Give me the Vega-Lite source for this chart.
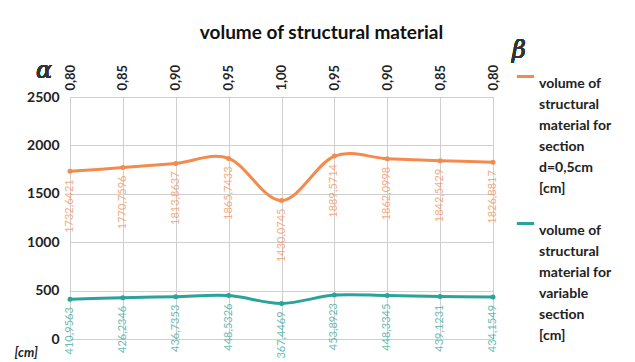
{
  "$schema": "https://vega.github.io/schema/vega-lite/v6.json",
  "autosize": {"type": "none"},
  "padding": {"left": 70, "top": 97, "right": 142, "bottom": 23},
  "width": 423,
  "height": 242,
  "background": "white",
  "title": {"text": "volume of structural material", "font": "Lato", "fontSize": 19, "fontWeight": "bold", "color": "#111", "anchor": "middle", "dx": 40, "offset": -4},
  "config": {
    "view": {"stroke": null},
    "locale": {"number": {"decimal": ",", "thousands": ".", "grouping": [3], "currency": ["", ""]}},
    "font": "Lato",
    "style": {"guide-label": {"lineHeight": 21}}
  },
  "data": {"values": [
    {"pos": 1, "series": "A", "value": 1732.6421},
    {"pos": 2, "series": "A", "value": 1770.7596},
    {"pos": 3, "series": "A", "value": 1813.8637},
    {"pos": 4, "series": "A", "value": 1865.7433},
    {"pos": 5, "series": "A", "value": 1430.0745},
    {"pos": 6, "series": "A", "value": 1889.5714},
    {"pos": 7, "series": "A", "value": 1862.0998},
    {"pos": 8, "series": "A", "value": 1842.5429},
    {"pos": 9, "series": "A", "value": 1826.8817},
    {"pos": 1, "series": "B", "value": 410.9563},
    {"pos": 2, "series": "B", "value": 426.2346},
    {"pos": 3, "series": "B", "value": 436.7353},
    {"pos": 4, "series": "B", "value": 448.5326},
    {"pos": 5, "series": "B", "value": 367.4469},
    {"pos": 6, "series": "B", "value": 453.8923},
    {"pos": 7, "series": "B", "value": 448.3345},
    {"pos": 8, "series": "B", "value": 439.1231},
    {"pos": 9, "series": "B", "value": 434.1549}
  ]},
  "encoding": {
    "x": {"field": "pos", "type": "ordinal", "scale": {"type": "point", "padding": 0},
      "axis": {"orient": "top", "title": null, "labelAngle": 270, "labelAlign": "left", "labelBaseline": "middle", "labelFont": "Lato", "labelFontSize": 13, "labelFontWeight": "bold", "labelColor": "#222", "labelPadding": 7, "domain": false, "ticks": false, "grid": true, "gridColor": "#cfcfcf",
        "labelExpr": "['0,80','0,85','0,90','0,95','1,00','0,95','0,90','0,85','0,80'][datum.value-1]"}},
    "y": {"field": "value", "type": "quantitative", "scale": {"domain": [0, 2500]},
      "axis": {"values": [0, 500, 1000, 1500, 2000, 2500], "format": "d", "title": "[cm]", "titleAngle": 0, "titleX": -56, "titleY": 262, "titleAlign": "left", "titleFont": "Lato", "titleFontSize": 13, "titleFontWeight": "bold", "titleFontStyle": "italic", "titleColor": "#222", "labelFont": "Lato", "labelFontSize": 14, "labelFontWeight": "bold", "labelColor": "#222", "labelPadding": 11, "domain": false, "ticks": false, "grid": true, "gridColor": "#cfcfcf"}},
    "color": {"field": "series", "type": "nominal",
      "scale": {"domain": ["A", "B"], "range": ["#F38B4F", "#2BA39A"]},
      "legend": {"title": null, "orient": "none", "legendX": 445, "legendY": -31, "symbolType": "stroke", "symbolStrokeWidth": 3, "symbolSize": 300, "labelFont": "Lato", "labelFontSize": 14, "labelFontWeight": "bold", "labelColor": "#222", "labelLimit": 200, "labelBaseline": "top", "labelOffset": 3, "rowPadding": 17, "labelOverlap": false,
        "labelExpr": "datum.value == 'A' ? ['volume of', 'structural', 'material for', 'section', 'd=0,5cm', '[cm]'] : ['volume of', 'structural', 'material for', 'variable', 'section', '[cm]']"}}
  },
  "layer": [
    {"mark": {"type": "line", "interpolate": "cardinal", "strokeWidth": 3}},
    {"mark": {"type": "point", "filled": true, "size": 25, "opacity": 1}},
    {"mark": {"type": "text", "angle": 270, "align": "right", "baseline": "middle", "dx": -8, "font": "Lato", "fontSize": 11, "opacity": 0.7},
      "encoding": {"text": {"field": "value", "type": "quantitative", "format": ".4f"}}},
    {"mark": {"type": "text", "text": "α", "font": "DejaVu Serif", "fontStyle": "italic", "fontSize": 24, "color": "#333", "dx": -26, "dy": -26, "align": "center", "baseline": "middle"},
      "encoding": {"x": {"datum": 1}, "y": {"datum": 2500}, "color": {"value": "#333"}}},
    {"mark": {"type": "text", "text": "β", "font": "DejaVu Serif", "fontStyle": "italic", "fontSize": 24, "color": "#333", "dx": 26, "dy": -46, "align": "center", "baseline": "middle"},
      "encoding": {"x": {"datum": 9}, "y": {"datum": 2500}, "color": {"value": "#333"}}}
  ]
}
